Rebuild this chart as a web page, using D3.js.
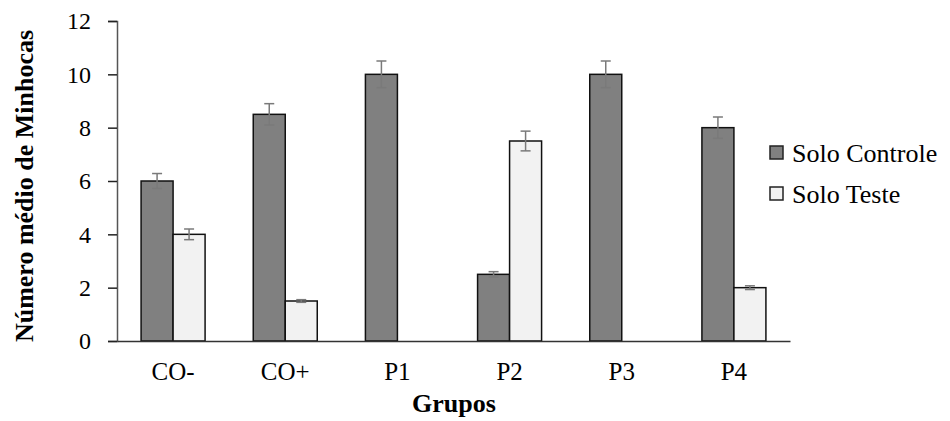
<!DOCTYPE html>
<html>
<head>
<meta charset="utf-8">
<script src="https://cdn.jsdelivr.net/npm/d3@7"></script>
<style>
  body { margin: 0; background: #fff; }
</style>
</head>
<body>
<svg id="chart"></svg>
<script>
// data
var groups = ["CO-", "CO+", "P1", "P2", "P3", "P4"]
var series = ["Solo Controle", "Solo Teste"]
var controle = [6, 8.5, 10, 2.5, 10, 8]
var controleErr = [0.28, 0.4, 0.5, 0.1, 0.5, 0.4]
var teste = [4, 1.5, 0, 7.5, 0, 2]
var testeErr = [0.2, 0.05, 0, 0.37, 0, 0.07]
var yTicks = [0, 2, 4, 6, 8, 10, 12]

var serif = "'Liberation Serif', 'Times New Roman', serif"

var dimensions = {
    width: 950,
    height: 421,
    margin: { top: 21, bottom: 80, left: 117, right: 160 }
}

var svg = d3.select("#chart")
    .attr("width", dimensions.width)
    .attr("height", dimensions.height)

var xScale = d3.scaleBand()
    .domain(groups)
    .range([dimensions.margin.left, dimensions.width - dimensions.margin.right])
    .padding(0)

var yScale = d3.scaleLinear()
    .domain([0, 12])
    .range([dimensions.height - dimensions.margin.bottom, dimensions.margin.top])

var barW = 32
var colors = { "Solo Controle": "#808080", "Solo Teste": "#f2f2f2" }

// y axis
var yAxis = svg.append("g")
    .attr("transform", "translate(" + dimensions.margin.left + ",0)")
    .call(d3.axisLeft(yScale).tickValues(yTicks).tickSize(9).tickPadding(17).tickFormat(d3.format("d")))
yAxis.select(".domain").attr("stroke", "#555").attr("stroke-width", 1.5)
yAxis.selectAll(".tick line").attr("stroke", "#222").attr("stroke-width", 1.5)
yAxis.selectAll(".tick text")
    .style("font-family", serif)
    .style("font-size", "24px")
    .style("fill", "#000")

// bars
var rows = groups.map(function(g, i){
    return [
        { group: g, key: "Solo Controle", value: controle[i], err: controleErr[i], off: -barW },
        { group: g, key: "Solo Teste", value: teste[i], err: testeErr[i], off: 0 }
    ]
}).flat().filter(function(d){ return d.value > 0 })

svg.append("g")
    .selectAll("rect")
    .data(rows)
    .enter()
    .append("rect")
    .attr("x", d => xScale(d.group) + xScale.bandwidth() / 2 + d.off)
    .attr("y", d => yScale(d.value))
    .attr("width", barW)
    .attr("height", d => yScale(0) - yScale(d.value))
    .attr("fill", d => colors[d.key])
    .attr("stroke", "#111")
    .attr("stroke-width", 1.5)

// error bars
var eb = svg.append("g")
    .attr("stroke", "#7a7a7a")
    .attr("stroke-width", 1.5)
    .selectAll("g")
    .data(rows)
    .enter()
    .append("g")
    .attr("transform", d => "translate(" + (xScale(d.group) + xScale.bandwidth() / 2 + d.off + barW / 2) + ",0)")
eb.append("line")
    .attr("y1", d => yScale(d.value + d.err))
    .attr("y2", d => yScale(d.value - d.err))
eb.append("line")
    .attr("x1", -5).attr("x2", 5)
    .attr("y1", d => yScale(d.value + d.err))
    .attr("y2", d => yScale(d.value + d.err))
eb.append("line")
    .attr("x1", -5).attr("x2", 5)
    .attr("y1", d => yScale(d.value - d.err))
    .attr("y2", d => yScale(d.value - d.err))

// x axis
var xAxis = svg.append("g")
    .attr("transform", "translate(0," + yScale(0) + ")")
    .call(d3.axisBottom(xScale).tickSize(0).tickPadding(21))
xAxis.select(".domain").attr("stroke", "#333").attr("stroke-width", 1.5)
xAxis.selectAll(".tick text")
    .style("font-family", serif)
    .style("font-size", "25px")
    .style("fill", "#000")

// axis titles
svg.append("text")
    .attr("x", 454)
    .attr("y", 412)
    .attr("text-anchor", "middle")
    .style("font-family", serif)
    .style("font-size", "26px")
    .style("font-weight", "bold")
    .text("Grupos")

svg.append("text")
    .attr("transform", "translate(33," + ((yScale(0) + yScale(12)) / 2 + 5) + ") rotate(-90)")
    .attr("text-anchor", "middle")
    .style("font-family", serif)
    .style("font-size", "26px")
    .style("font-weight", "bold")
    .text("Número médio de Minhocas")

// legend
var legend = svg.append("g")
    .selectAll("g")
    .data(series)
    .enter()
    .append("g")
    .attr("transform", (d, i) => "translate(770," + (146 + i * 41) + ")")
legend.append("rect")
    .attr("width", 13)
    .attr("height", 13)
    .attr("fill", d => colors[d])
    .attr("stroke", "#222")
    .attr("stroke-width", 1.5)
legend.append("text")
    .attr("x", 22)
    .attr("y", 16)
    .style("font-family", serif)
    .style("font-size", "26px")
    .text(d => d)
</script>
</body>
</html>
